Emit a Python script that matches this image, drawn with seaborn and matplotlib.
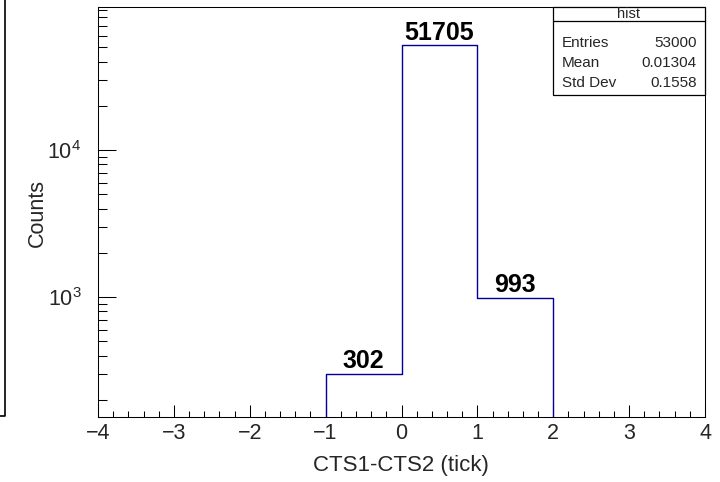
import numpy as np
import pandas as pd
import matplotlib
matplotlib.use("Agg")
import matplotlib.pyplot as plt
from matplotlib.lines import Line2D
from matplotlib.patches import Rectangle
from matplotlib.ticker import MultipleLocator, LogLocator, NullFormatter
import seaborn as sns

# histogram contents (one entry per bin of width 1)
bin_edges = [-4, -3, -2, -1, 0, 1, 2, 3, 4]
bin_counts = [0, 0, 0, 302, 51705, 993, 0, 0]
x_ticks = [-4, -3, -2, -1, 0, 1, 2, 3, 4]

stats_title = "hist"
stats_labels = ["Entries", "Mean", "Std Dev"]
stats_values = ["53000", "0.01304", "0.1558"]

line_color = "#000099"

sns.set_theme(style="ticks")
plt.rcParams["font.family"] = ["Liberation Sans", "DejaVu Sans"]
plt.rcParams["mathtext.fontset"] = "custom"
plt.rcParams["mathtext.rm"] = "Liberation Sans"
plt.rcParams["mathtext.it"] = "Liberation Sans"

W, H = 720, 482
fig = plt.figure(figsize=(W / 100, H / 100), dpi=100)
fig.patch.set_facecolor("white")


def fx(px):
    return px / W


def fy(py):
    return 1 - py / H


# frame position in pixels: left 98, right 705, top 7, bottom 417
ax = fig.add_axes([fx(98), fy(417), fx(705) - fx(98), fy(7) - fy(417)])
ax.set_facecolor("white")

edges = np.array(bin_edges, dtype=float)
centers = (edges[:-1] + edges[1:]) / 2
df = pd.DataFrame({"center": centers, "count": bin_counts})

sns.histplot(data=df, x="center", weights="count", bins=bin_edges,
             element="step", fill=False, color=line_color, linewidth=1.0, ax=ax)
ax.set_yscale("log")
ax.set_xlim(bin_edges[0], bin_edges[-1])
ax.set_ylim(153, 94000)

# bin content labels (ROOT "TEXT" option)
for c, n in zip(centers, bin_counts):
    if n > 0:
        ax.annotate(str(n), (c, n), xytext=(0, 4), textcoords="offset points",
                    ha="center", va="baseline", fontsize=18, fontweight="bold",
                    color="black")

ax.set_xticks(x_ticks)
ax.xaxis.set_minor_locator(MultipleLocator(0.2))
ax.yaxis.set_major_locator(LogLocator(base=10))
ax.yaxis.set_minor_locator(LogLocator(base=10, subs=np.arange(2, 10)))
ax.yaxis.set_minor_formatter(NullFormatter())

ax.tick_params(axis="x", which="major", direction="in", length=8.8, width=0.75,
               labelsize=15.5, pad=4, color="black", top=False)
ax.tick_params(axis="x", which="minor", direction="in", length=4.4, width=0.75,
               color="black", top=False)
ax.tick_params(axis="y", which="major", direction="in", length=13, width=0.75,
               labelsize=15.5, pad=12, color="black", right=False)
ax.tick_params(axis="y", which="minor", direction="in", length=6.5, width=0.75,
               color="black", right=False)
for s in ax.spines.values():
    s.set_visible(True)
    s.set_color("black")
    s.set_linewidth(0.75)

ax.set_xlabel("")
ax.set_ylabel("")
fig.text(fx(401), fy(465), "CTS1-CTS2 (tick)", ha="center", va="center", fontsize=16)
fig.text(fx(37), fy(213), "Counts", ha="center", va="center", rotation=90, fontsize=15.5)

# statistics box
bx0, bx1, by0, by1, bsep = 553, 705, 7, 95, 20.5
fig.add_artist(Rectangle((fx(bx0), fy(by1)), fx(bx1) - fx(bx0), fy(by0) - fy(by1),
                         transform=fig.transFigure, facecolor="white",
                         edgecolor="black", linewidth=0.9, zorder=5))
fig.add_artist(Line2D([fx(bx0), fx(bx1)], [fy(bsep), fy(bsep)],
                      transform=fig.transFigure, color="black", linewidth=0.9, zorder=6))
fig.text(fx((bx0 + bx1) / 2), fy(17.5), stats_title, ha="center", va="baseline",
         fontsize=10.5, zorder=7)
for i, (lab, val) in enumerate(zip(stats_labels, stats_values)):
    yy = 47 + i * 20
    fig.text(fx(562), fy(yy), lab, ha="left", va="baseline", fontsize=11, zorder=7)
    fig.text(fx(697), fy(yy), val, ha="right", va="baseline", fontsize=11, zorder=7)

# corner of the neighbouring pad at the left edge
fig.add_artist(Line2D([fx(5), fx(5), fx(0)], [fy(0), fy(416), fy(416)],
                      transform=fig.transFigure, color="black", linewidth=1.2))

fig.savefig("out.png", dpi=100)
